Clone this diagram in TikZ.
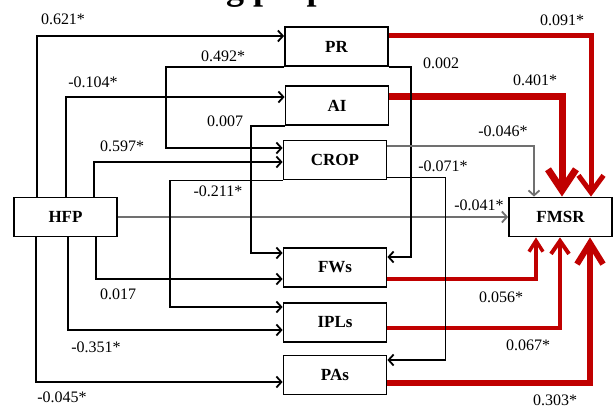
\documentclass[tikz,border=0pt]{standalone}
\usepackage{fontspec}
\setmainfont{Liberation Serif}
\usetikzlibrary{arrows.meta}
\definecolor{pathred}{RGB}{192,0,0}
\definecolor{pathgray}{RGB}{112,112,112}
\tikzset{
  box/.style   = {draw, line width=1.8pt, fill=white, minimum width=103pt,
                  minimum height=39pt, inner sep=0pt,
                  font=\fontsize{17}{20}\selectfont\bfseries},
  wire/.style  = {line width=1.8pt, -{Straight Barb[length=5pt,width=11pt]}},
  gwire/.style = {wire, draw=pathgray},
  rwire/.style n args = {3}{draw=pathred, line width=#1,
                  -{Straight Barb[length=#2,width=#3]}},
  lbl/.style   = {inner sep=0pt, font=\fontsize{16}{18}\selectfont},
}

\begin{document}
\begin{tikzpicture}[x=1pt,y=-1pt]
  \useasboundingbox (0,0) rectangle (616,410);
  % cut-off title above the diagram
  \node[anchor=base west, inner sep=0pt, font=\fontsize{36}{40}\selectfont\bfseries]
      (ttl) at (226,-0.5) {g prop};
  % boxes
  \node[box] (HFP)  at (65.5,217)  {HFP};
  \node[box] (PR)   at (336.5,46.5) {PR};
  \node[box] (AI)   at (337,105.5) {AI};
  \node[box] (CROP) at (335,160)   {CROP};
  \node[box] (FWs)  at (335,267.5) {FWs};
  \node[box] (IPLs) at (335,322.5) {IPLs};
  \node[box] (PAs)  at (335,375)   {PAs};
  \node[box] (FMSR) at (560.5,217) {FMSR};
  % paths into FMSR
  \draw[rwire={5pt}{17pt}{25pt}]   ([yshift=11.5pt]PR.east) -| ([xshift=30.5pt]FMSR.north);
  \draw[rwire={7pt}{21pt}{28pt}]   ([yshift=9.5pt]AI.east) -| ([xshift=1.5pt]FMSR.north);
  \draw[rwire={3.5pt}{11pt}{14pt}] ([yshift=-11.5pt]FWs.east) -| ([xshift=-24.5pt]FMSR.south);
  \draw[rwire={4pt}{13pt}{18pt}]   ([yshift=-5.5pt]IPLs.east) -| ([xshift=-0.5pt]FMSR.south);
  \draw[rwire={6pt}{21pt}{26pt}]   ([yshift=-8pt]PAs.east) -| ([xshift=29.5pt]FMSR.south);
  % paths out of HFP
  \draw[wire] ([xshift=24pt]HFP.north west) |- ([yshift=10.5pt]PR.west);
  \draw[wire] ([xshift=53pt]HFP.north west) |- ([yshift=8.5pt]AI.west);
  \draw[wire] ([xshift=81pt]HFP.north west) |- ([yshift=-2pt]CROP.west);
  \draw[wire] ([xshift=83pt]HFP.south west) |- ([yshift=-11.5pt]FWs.west);
  \draw[wire] ([xshift=55pt]HFP.south west) |- ([yshift=-7.5pt]IPLs.west);
  \draw[wire] ([xshift=23pt]HFP.south west) |- ([yshift=-7pt]PAs.west);
  \draw[gwire] (HFP.east) -- (FMSR.west);
  % paths between the mediators
  \draw[wire] (PR.south west) -- ++(-118,0) |- ([yshift=12pt]CROP.west);
  \draw[wire] (AI.south west) -- ++(-34,0) |- ([yshift=14.5pt]FWs.west);
  \draw[wire] (CROP.south west) -- ++(-113,0) |- ([yshift=15.5pt]IPLs.west);
  \draw[wire] (PR.south east) -- ++(22,0) |- ([yshift=10.5pt]FWs.east);
  \draw[wire] ([yshift=3pt]CROP.south east) -- ++(58,0) |- ([yshift=15pt]PAs.east);
  \draw[gwire] ([yshift=14pt]CROP.east) -| ([xshift=-26.5pt]FMSR.north);
  % coefficients
  \node[lbl] (c621) at (63,19)   {0.621*};
  \node[lbl] (c104) at (93,82)   {-0.104*};
  \node[lbl] (c597) at (122,146) {0.597*};
  \node[lbl] (c492) at (223,56)  {0.492*};
  \node[lbl] (c007) at (225,121) {0.007};
  \node[lbl] (c211) at (218,191) {-0.211*};
  \node[lbl] (c002) at (441,63)  {0.002};
  \node[lbl] (c091) at (562,20)  {0.091*};
  \node[lbl] (c401) at (535,80)  {0.401*};
  \node[lbl] (c046) at (503,131) {-0.046*};
  \node[lbl] (c071) at (443,166) {-0.071*};
  \node[lbl] (c041) at (479,205) {-0.041*};
  \node[lbl] (c017) at (118,294) {0.017};
  \node[lbl] (c351) at (96,347)  {-0.351*};
  \node[lbl] (c045) at (62,397)  {-0.045*};
  \node[lbl] (c056) at (501,297) {0.056*};
  \node[lbl] (c067) at (528,345) {0.067*};
  \node[lbl] (c303) at (555,400) {0.303*};
\end{tikzpicture}
\end{document}
